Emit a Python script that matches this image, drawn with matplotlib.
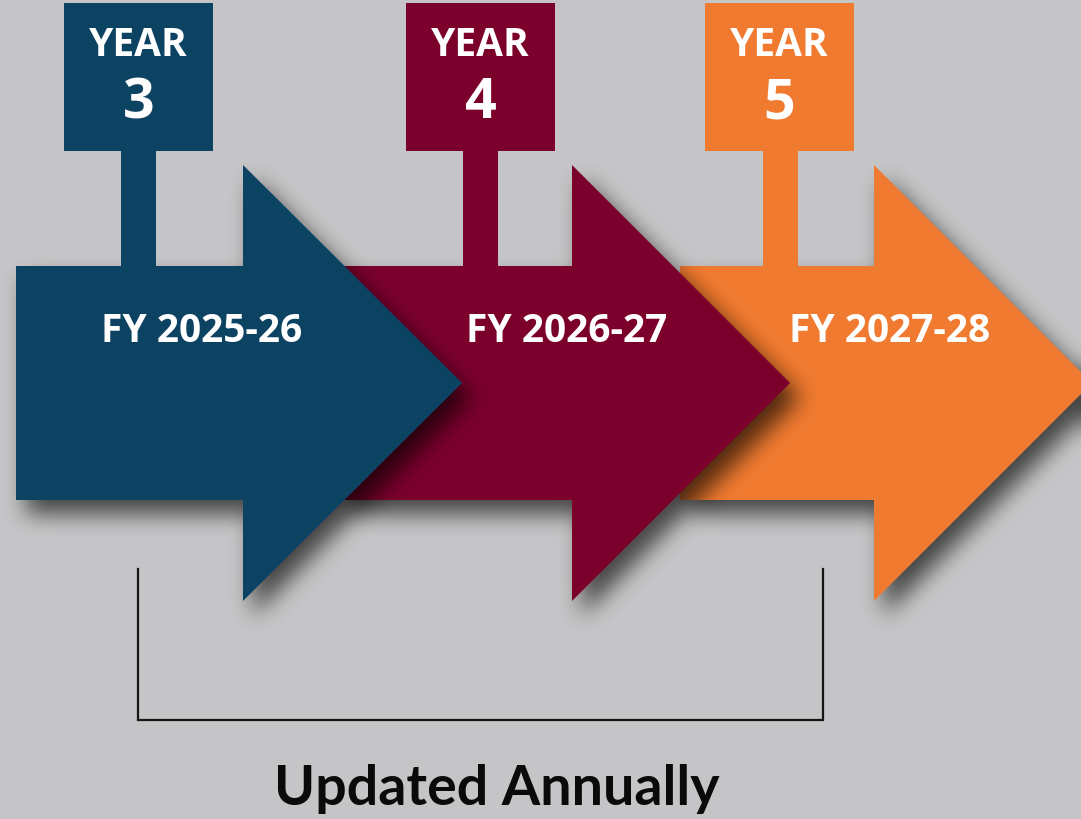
import numpy as np
import matplotlib
matplotlib.use("Agg")
import matplotlib.pyplot as plt
from matplotlib.path import Path
from matplotlib.patches import Polygon, Rectangle

# chart content
years = [3, 4, 5]
periods = ["FY 2025-26", "FY 2026-27", "FY 2027-28"]
colors = ["#0c4262", "#7b002c", "#f07a30"]
footer = "Updated Annually"

W, H = 1081, 819
BG = "#c5c5c7"

# layout (pixel coords, y down)
shaft_left = [16, 340, 680]
head_x = [243, 572, 874]
tip_x = [462, 790, 1092]
box_left = [64, 406, 705]
stem_left = [121, 463, 763]
box_w, box_h = 149, 148
stem_w = 35
shaft_top, shaft_bot = 266, 500
head_top, head_bot = 165, 601
mid_y = (head_top + head_bot) / 2
fy_x = [202, 567, 890]


def arrow_poly(i, dx=0, dy=0):
    pts = [(shaft_left[i], shaft_top), (head_x[i], shaft_top), (head_x[i], head_top),
           (tip_x[i], mid_y), (head_x[i], head_bot), (head_x[i], shaft_bot),
           (shaft_left[i], shaft_bot)]
    return np.array(pts) + [dx, dy]


def box_blur(a, r, axis):
    pad = [(0, 0), (0, 0)]
    pad[axis] = (r + 1, r)
    c = np.cumsum(np.pad(a, pad, mode="edge"), axis=axis)
    n = a.shape[axis]
    hi = np.take(c, np.arange(2 * r + 1, 2 * r + 1 + n), axis=axis)
    lo = np.take(c, np.arange(0, n), axis=axis)
    return (hi - lo) / (2 * r + 1)


yy, xx = np.mgrid[0:H, 0:W] + 0.5
grid = np.column_stack([xx.ravel(), yy.ravel()])


def shadow(i):
    m = Path(arrow_poly(i, 10, 14)).contains_points(grid).reshape(H, W).astype(float)
    for _ in range(3):
        m = box_blur(m, 10, 0)
        m = box_blur(m, 10, 1)
    rgba = np.zeros((H, W, 4))
    rgba[..., 3] = m * 0.65
    return rgba


fig = plt.figure(figsize=(W / 100, H / 100), dpi=100, facecolor=BG)
ax = fig.add_axes([0, 0, 1, 1])
ax.set_facecolor(BG)

# draw back to front: orange, maroon, blue
for i in [2, 1, 0]:
    z = (3 - i) * 10
    ax.imshow(shadow(i), extent=(0, W, H, 0), zorder=z, interpolation="bilinear", aspect="auto")
    ax.add_patch(Polygon(arrow_poly(i), closed=True, fc=colors[i], ec="none", zorder=z + 1))
    ax.add_patch(Rectangle((stem_left[i], 150), stem_w, shaft_top - 150 + 1,
                           fc=colors[i], ec="none", zorder=z + 1))
    ax.add_patch(Rectangle((box_left[i], 3), box_w, box_h, fc=colors[i], ec="none", zorder=z + 1))
    bx = box_left[i] + box_w / 2
    ax.text(bx, 46, "YEAR", color="white", fontsize=28, fontweight="bold",
            family="Open Sans", ha="center", va="center", zorder=z + 2)
    ax.text(bx, 104, str(years[i]), color="white", fontsize=40, fontweight="bold",
            family="Open Sans", ha="center", va="center", zorder=z + 2)
    ax.text(fy_x[i], 332, periods[i], color="white", fontsize=28, fontweight="bold",
            family="Open Sans", ha="center", va="center", zorder=z + 2)

# bracket
ax.plot([138, 138, 823, 823], [569, 720, 720, 569], color="#151515", lw=1.6,
        solid_joinstyle="miter", zorder=50)
ax.text(497, 789, footer, color="#0a0a0a", fontsize=40, fontweight="bold",
        family="Lato", ha="center", va="center", zorder=50)

ax.set_xlim(0, W)
ax.set_ylim(H, 0)
ax.axis("off")
fig.savefig("out.png", dpi=100, facecolor=BG)
